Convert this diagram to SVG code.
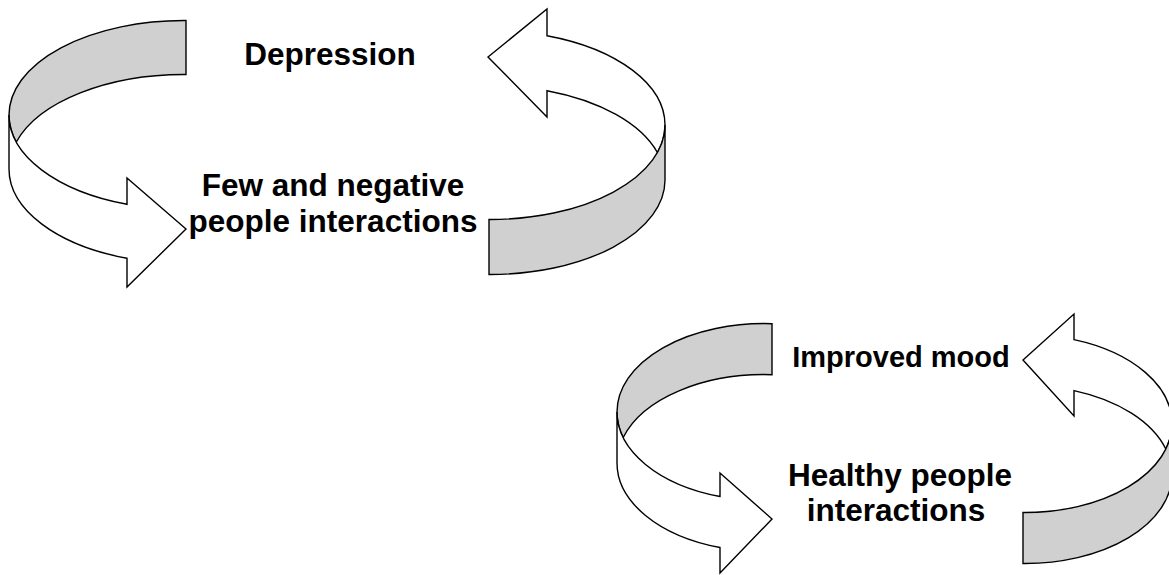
<svg xmlns="http://www.w3.org/2000/svg" width="1169" height="575" viewBox="0 0 1169 575">
<style>
.band{stroke:#000;stroke-width:1.4;stroke-linejoin:miter}
.gray{fill:#d0d0d0}
.white{fill:#fff}
.lbl{font-family:"Liberation Sans",Arial,sans-serif;font-weight:bold;fill:#000;text-anchor:middle}
</style>
<rect width="1169" height="575" fill="#fff"/>
<g id="arrows">
<g id="top-left-arrow">
<path class="band gray" d="M186,20.5 A175,94.5 0 0 0 9,115 A175,94.5 0 0 0 16.3,142 A175,94.5 0 0 1 186,74.5 Z"/>
<path class="band white" d="M9,115 L9,169 A175,94.5 0 0 0 127,258.3 L127,287 L186,229 L127,178 L127,204.3 A175,94.5 0 0 1 9,115 Z"/>
</g>
<g id="top-right-arrow">
<path class="band white" d="M547,35.7 A175,94.5 0 0 1 665,125 A175,94.5 0 0 1 657.4,152.5 A175,94.5 0 0 0 547,90.7 L547,117 L488,57 L547,9 Z"/>
<path class="band gray" d="M665,125 L665,180 A175,94.5 0 0 1 489,274.5 L489,219.5 A175,94.5 0 0 0 665,125 Z"/>
</g>
<g id="bottom-left-arrow">
<path class="band gray" d="M772,323.7 A147,88.5 0 0 0 617,412 A147,88.5 0 0 0 623.2,437.5 A147,88.5 0 0 1 772,374.7 Z"/>
<path class="band white" d="M617,412 L617,463 A147,88.5 0 0 0 720,547.5 L720,573 L772,519 L720,473 L720,496.5 A147,88.5 0 0 1 617,412 Z"/>
</g>
<g id="bottom-right-arrow">
<path class="band white" d="M1074,339.6 A147,89 0 0 1 1172,423.5 A147,89 0 0 1 1165.8,449 A147,89 0 0 0 1074,390.6 L1074,416 L1023,360 L1074,314 Z"/>
<path class="band gray" d="M1172,423.5 L1172,474.5 A147,89 0 0 1 1023,563.5 L1023,512.5 A147,89 0 0 0 1172,423.5 Z"/>
</g>
</g>
<g id="node-depression"><text class="lbl" x="330" y="65" font-size="31.5">Depression</text></g>
<g id="node-few-negative"><text class="lbl" x="333" y="196" font-size="31.5">Few and negative</text><text class="lbl" x="333" y="232" font-size="31.5">people interactions</text></g>
<g id="node-improved-mood"><text class="lbl" x="901" y="367" font-size="29">Improved mood</text></g>
<g id="node-healthy"><text class="lbl" x="900" y="486" font-size="31.5">Healthy people</text><text class="lbl" x="896" y="521" font-size="31.5">interactions</text></g>
</svg>
